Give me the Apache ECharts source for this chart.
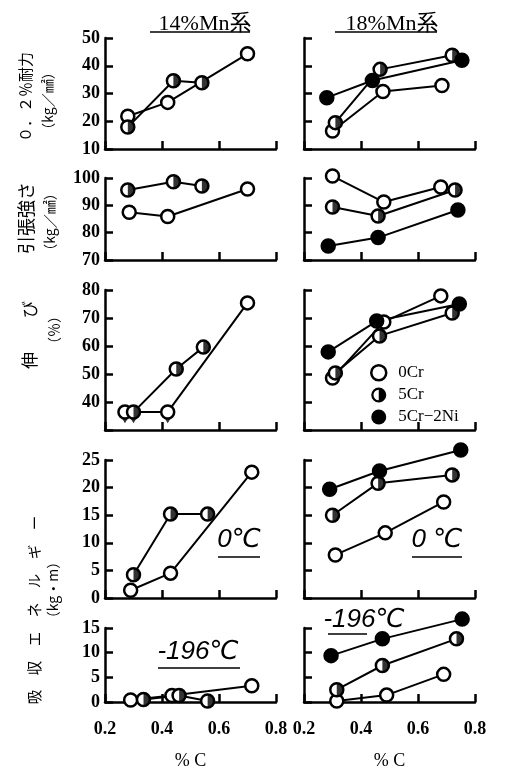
<!DOCTYPE html>
<html><head><meta charset="utf-8">
<script src="https://cdn.jsdelivr.net/npm/echarts@6/dist/echarts.min.js"></script>
<style>html,body{margin:0;padding:0;background:#fff}#c{width:512px;height:771px}</style>
</head><body><div id="c"></div>
<script>
// ---- data (x = %C, y = property value) ----
const xTickValues = [0.2, 0.4, 0.6, 0.8];
const legendNames = ['0Cr', '5Cr', '5Cr−2Ni'];
const columnTitles = ['14%Mn系', '18%Mn系'];

// 0.2% proof stress (kg/mm2)
const yield14_0Cr = [[0.28, 21.8], [0.42, 26.8], [0.70, 44.3]];
const yield14_5Cr = [[0.28, 17.9], [0.44, 34.6], [0.54, 33.9]];
const yield18_0Cr = [[0.30, 16.5], [0.477, 30.7], [0.684, 32.9]];
const yield18_5Cr = [[0.31, 19.5], [0.467, 38.7], [0.72, 43.8]];
const yield18_2Ni = [[0.28, 28.5], [0.44, 34.7], [0.754, 42.0]];
// tensile strength (kg/mm2)
const ts14_0Cr = [[0.285, 87.5], [0.42, 85.9], [0.70, 96.0]];
const ts14_5Cr = [[0.28, 95.6], [0.44, 98.6], [0.54, 97.1]];
const ts18_0Cr = [[0.30, 100.7], [0.48, 91.2], [0.68, 96.7]];
const ts18_5Cr = [[0.30, 89.4], [0.46, 86.1], [0.73, 95.6]];
const ts18_2Ni = [[0.285, 75.1], [0.46, 78.2], [0.74, 88.3]];
// elongation (%)
const el14_0Cr = [[0.27, 36.4], [0.42, 36.4], [0.70, 75.4]];
const el14_5Cr = [[0.30, 36.4], [0.45, 51.8], [0.545, 59.6]];
const el14_lessThanX = [0.27, 0.30, 0.42];
const el18_0Cr = [[0.30, 48.6], [0.48, 68.6], [0.68, 77.9]];
const el18_5Cr = [[0.31, 50.4], [0.465, 63.6], [0.72, 71.8]];
const el18_2Ni = [[0.285, 57.9], [0.455, 68.9], [0.745, 75.0]];
// absorbed energy at 0 C (kg.m)
const e0_14_0Cr = [[0.29, 1.4], [0.43, 4.5], [0.715, 22.8]];
const e0_14_5Cr = [[0.30, 4.2], [0.43, 15.2], [0.56, 15.2]];
const e0_18_0Cr = [[0.31, 7.8], [0.485, 11.8], [0.69, 17.4]];
const e0_18_5Cr = [[0.30, 15.0], [0.46, 20.8], [0.72, 22.3]];
const e0_18_2Ni = [[0.29, 19.7], [0.465, 23.0], [0.75, 26.8]];
// absorbed energy at -196 C (kg.m)
const e196_14_0Cr = [[0.29, 0.4], [0.435, 1.3], [0.715, 3.3]];
const e196_14_5Cr = [[0.335, 0.5], [0.46, 1.3], [0.56, 0.2]];
const e196_18_0Cr = [[0.315, 0.2], [0.49, 1.4], [0.69, 5.6]];
const e196_18_5Cr = [[0.315, 2.5], [0.475, 7.4], [0.735, 12.8]];
const e196_18_2Ni = [[0.295, 9.4], [0.475, 12.8], [0.755, 16.8]];

const yMins = [10, 70, 30, 0, 0];
const yMaxs = [50, 100, 80, 25, 15];
const yIntervals = [10, 10, 10, 5, 5];

// ---- layout ----
const rowTop = [38, 178, 290, 460, 628];
const rowHeight = [111, 82, 140, 138, 83];
const colLeft = [105, 304];
const colWidth = 171;

const panels = [
  [[yield14_0Cr, 'open'], [yield14_5Cr, 'half']],
  [[yield18_0Cr, 'open'], [yield18_5Cr, 'half'], [yield18_2Ni, 'full']],
  [[ts14_0Cr, 'open'], [ts14_5Cr, 'half']],
  [[ts18_0Cr, 'open'], [ts18_5Cr, 'half'], [ts18_2Ni, 'full']],
  [[el14_0Cr, 'open'], [el14_5Cr, 'half']],
  [[el18_0Cr, 'open'], [el18_5Cr, 'half'], [el18_2Ni, 'full']],
  [[e0_14_0Cr, 'open'], [e0_14_5Cr, 'half']],
  [[e0_18_0Cr, 'open'], [e0_18_5Cr, 'half'], [e0_18_2Ni, 'full']],
  [[e196_14_0Cr, 'open'], [e196_14_5Cr, 'half']],
  [[e196_18_0Cr, 'open'], [e196_18_5Cr, 'half'], [e196_18_2Ni, 'full']]
];

const HALF = 'path://M0,0A10,10 0 0,1 0,20Z';
const RING_HALF = 'path://M0,-10A10,10 0 1,1 0,10A10,10 0 1,1 0,-10Z M0,-7A7,7 0 0,0 0,7Z';
const SERIF = "'Liberation Serif','DejaVu Serif',serif";
const CJK = "'Noto Sans CJK JP','Noto Sans',sans-serif";

const grids = [], xAxes = [], yAxes = [], series = [];
for (let r = 0; r < 5; r++) {
  for (let c = 0; c < 2; c++) {
    const idx = r * 2 + c;
    grids.push({left: colLeft[c], top: rowTop[r], width: colWidth, height: rowHeight[r], containLabel: false});
    xAxes.push({
      gridIndex: idx, type: 'value', min: xTickValues[0], max: xTickValues[xTickValues.length - 1], interval: 0.2,
      axisLine: {show: true, lineStyle: {color: '#000', width: 2.5}},
      axisTick: {show: true, inside: true, length: 8, lineStyle: {color: '#000', width: 2.5}},
      axisLabel: {show: r === 4, color: '#000', fontFamily: SERIF, fontSize: 18, fontWeight: 'bold', margin: 18,
        formatter: v => v.toFixed(1)},
      splitLine: {show: false},
      name: r === 4 ? '% C' : '', nameLocation: 'middle', nameGap: 50,
      nameTextStyle: {color: '#000', fontFamily: SERIF, fontSize: 18}
    });
    yAxes.push({
      gridIndex: idx, type: 'value', min: yMins[r], max: yMaxs[r], interval: yIntervals[r],
      axisLine: {show: true, lineStyle: {color: '#000', width: 2.5}},
      axisTick: {show: true, inside: true, length: 8, lineStyle: {color: '#000', width: 2.5}},
      axisLabel: {show: c === 0, color: '#000', fontFamily: SERIF, fontSize: 18, fontWeight: 'bold', margin: 5,
        formatter: v => (r === 2 && v === 30) ? '' : String(v)},
      splitLine: {show: false}
    });
    panels[idx].forEach(([data, kind]) => {
      const name = kind === 'open' ? legendNames[0] : kind === 'half' ? legendNames[1] : legendNames[2];
      series.push({type: 'line', xAxisIndex: idx, yAxisIndex: idx, data: data, symbol: 'none',
        lineStyle: {color: '#000', width: 2}, z: 2, clip: false, silent: true, animation: false});
      series.push({type: 'scatter', name: name, xAxisIndex: idx, yAxisIndex: idx, data: data,
        symbol: 'circle', symbolSize: 13,
        itemStyle: {color: kind === 'full' ? '#000' : '#fff', borderColor: '#000', borderWidth: 2.5, opacity: 1},
        z: 3, clip: false, animation: false});
      if (kind === 'half') {
        series.push({type: 'scatter', xAxisIndex: idx, yAxisIndex: idx, data: data,
          symbol: HALF, symbolSize: [6.5, 13], symbolOffset: [3.25, 0],
          itemStyle: {color: '#000'}, z: 4, clip: false, animation: false, silent: true});
      }
    });
  }
}
// "less than" arrows under the elongation points of the 14%Mn panel
series.push({type: 'scatter', xAxisIndex: 4, yAxisIndex: 4,
  data: el14_lessThanX.map(x => [x, yMins[2] + 2.4]),
  symbol: 'arrow', symbolRotate: 180, symbolSize: [9, 10],
  itemStyle: {color: '#000'}, z: 2, clip: false, animation: false, silent: true});

function vtext(x, y, text, size) {
  return {type: 'text', x: x, y: y, rotation: Math.PI / 2,
    style: {text: text, font: size + 'px ' + CJK, fill: '#000',
      align: 'center', verticalAlign: 'middle', textAlign: 'center', textVerticalAlign: 'middle'}};
}
function htext(x, y, text, font) {
  return {type: 'text', x: x, y: y,
    style: {text: text, font: font, fill: '#000',
      align: 'center', verticalAlign: 'middle', textAlign: 'center', textVerticalAlign: 'middle'}};
}
function uline(x1, x2, y) {
  return {type: 'line', shape: {x1: x1, y1: y, x2: x2, y2: y}, style: {stroke: '#000', lineWidth: 1.6}};
}
const TEMPFONT = "italic 26px 'Liberation Sans Narrow','Liberation Sans','DejaVu Sans',sans-serif";

const option = {
  animation: false,
  backgroundColor: '#fff',
  title: [
    {text: columnTitles[0], left: 200, top: 8, textAlign: 'center',
      textStyle: {fontFamily: SERIF + ',' + CJK, fontSize: 22, fontWeight: 'normal', color: '#000'}},
    {text: columnTitles[1], left: 387, top: 8, textAlign: 'center',
      textStyle: {fontFamily: SERIF + ',' + CJK, fontSize: 22, fontWeight: 'normal', color: '#000'}}
  ],
  legend: {
    orient: 'vertical', left: 365, top: 359, itemWidth: 15, itemHeight: 15, itemGap: 5,
    selectedMode: false,
    textStyle: {fontFamily: SERIF, fontSize: 17, color: '#000', padding: [0, 0, 0, 7]},
    data: [
      {name: legendNames[0], icon: 'circle', itemStyle: {color: '#fff', borderColor: '#000', borderWidth: 2.5}},
      {name: legendNames[1], icon: RING_HALF, itemStyle: {color: '#000', borderWidth: 0}},
      {name: legendNames[2], icon: 'circle', itemStyle: {color: '#000', borderWidth: 0}}
    ]
  },
  grid: grids, xAxis: xAxes, yAxis: yAxes, series: series,
  graphic: [
    uline(150, 250, 32), uline(335, 437, 32),
    vtext(25, 97, '０．２％耐力', 15), vtext(48, 101, '（kg／㎟）', 14),
    vtext(26, 218, '引張強さ', 18), vtext(50, 222, '（kg／㎟）', 14),
    vtext(30, 335, '伸　　び', 17), vtext(54, 330, '（％）', 14),
    vtext(34, 610, '吸　収　エ　ネ　ル　ギ　ー', 14.5), vtext(53, 590, '（kg・m）', 14),
    htext(239, 540, '0℃', TEMPFONT), uline(218, 260, 557),
    htext(437, 540, '0 ℃', TEMPFONT), uline(412, 462, 557),
    htext(198, 652, '-196℃', TEMPFONT), uline(158, 240, 668),
    htext(364, 620, '-196℃', TEMPFONT), uline(328, 367, 634)
  ]
};
const chart = echarts.init(document.getElementById('c'), null, {renderer: 'canvas'});
chart.setOption(option);
</script>
</body></html>
